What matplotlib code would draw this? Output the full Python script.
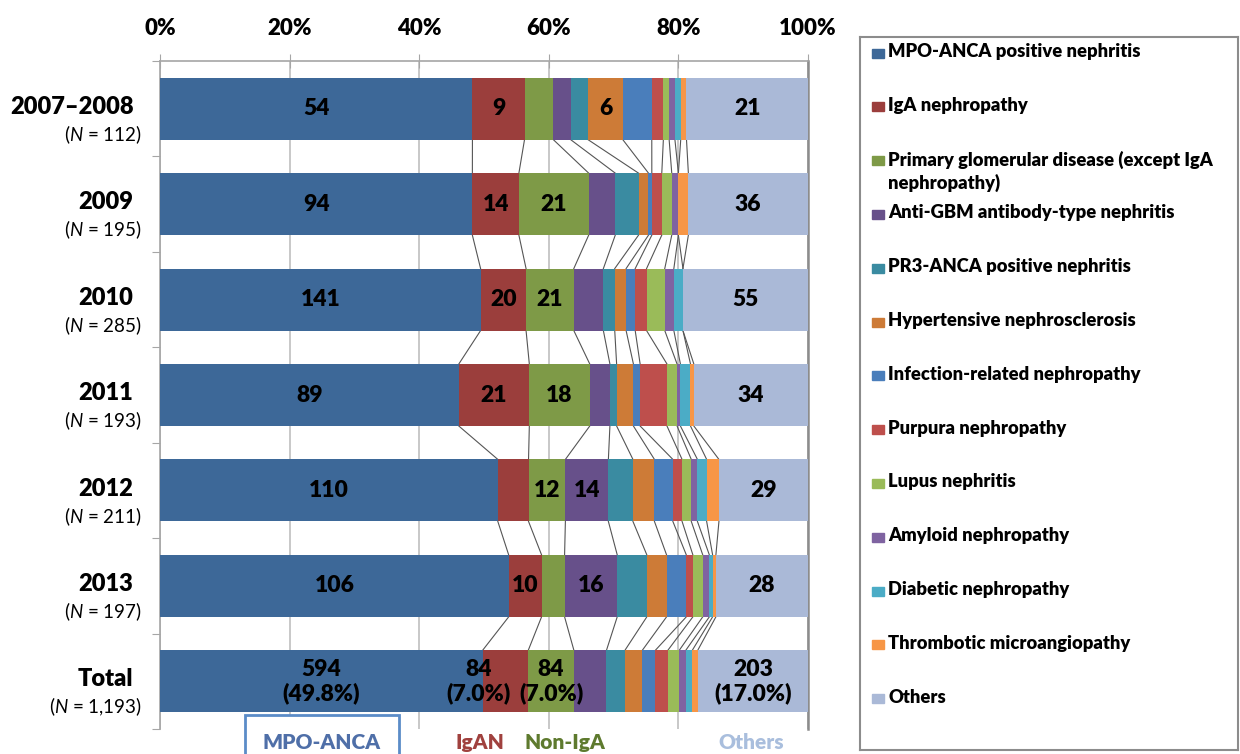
import numpy as np
import matplotlib
matplotlib.use("Agg")
import matplotlib.pyplot as plt
from matplotlib.patches import Rectangle

plt.rcParams['font.family'] = ['Lato', 'DejaVu Sans']
plt.rcParams['mathtext.fontset'] = 'custom'
plt.rcParams['mathtext.rm'] = 'Lato'
plt.rcParams['mathtext.it'] = 'Lato:italic'

# data (case counts per period)
periods = ["2007\u20132008", "2009", "2010", "2011", "2012", "2013", "Total"]
n_labels = ["112", "195", "285", "193", "211", "197", "1,193"]
diseases = [
    "MPO-ANCA positive nephritis",
    "IgA nephropathy",
    "Primary glomerular disease (except IgA\nnephropathy)",
    "Anti-GBM antibody-type nephritis",
    "PR3-ANCA positive nephritis",
    "Hypertensive nephrosclerosis",
    "Infection-related nephropathy",
    "Purpura nephropathy",
    "Lupus nephritis",
    "Amyloid nephropathy",
    "Diabetic nephropathy",
    "Thrombotic microangiopathy",
    "Others",
]
colors = ["#3D6898", "#9B3E3C", "#7E9A47", "#67508A", "#3A8BA1", "#CD7B37",
          "#4A7EBB", "#BE4F4C", "#9ABB59", "#7F63A1", "#4BACC6", "#F79646", "#AAB9D7"]

counts_0708 = [54, 9, 5, 3, 3, 6, 5, 2, 1, 1, 1, 1, 21]
counts_2009 = [94, 14, 21, 8, 7, 3, 1, 3, 3, 2, 0, 3, 36]
counts_2010 = [141, 20, 21, 13, 5, 5, 4, 5, 8, 4, 4, 0, 55]
counts_2011 = [89, 21, 18, 6, 2, 5, 2, 8, 3, 1, 3, 1, 34]
counts_2012 = [110, 10, 12, 14, 8, 7, 6, 3, 3, 2, 3, 4, 29]
counts_2013 = [106, 10, 7, 16, 9, 6, 6, 2, 3, 2, 1, 1, 28]

# which segments carry a number in the reference, per row
labelled = [[0, 1, 5, 12], [0, 1, 2, 12], [0, 1, 2, 12], [0, 1, 2, 12],
            [0, 2, 3, 12], [0, 1, 3, 12], [0, 1, 2, 12]]

yearly = np.array([counts_0708, counts_2009, counts_2010, counts_2011,
                   counts_2012, counts_2013])
counts = np.vstack([yearly, yearly.sum(axis=0)])
pct = counts / counts.sum(axis=1, keepdims=True) * 100
cum = np.cumsum(pct, axis=1)
left = cum - pct

W, H = 1240, 754
fig = plt.figure(figsize=(W / 100, H / 100), dpi=100)
ax = fig.add_axes([160 / W, 1 - 729 / H, 648 / W, 668 / H])

rows = np.arange(len(periods))
bar_h = 0.65
for j in range(len(diseases)):
    ax.barh(rows, pct[:, j], left=left[:, j], height=bar_h, color=colors[j],
            edgecolor='none', zorder=3)

# connector lines between segment borders of consecutive rows
for i in range(len(periods) - 1):
    for j in range(len(diseases) - 1):
        ax.plot([cum[i, j], cum[i + 1, j]], [i + bar_h / 2, i + 1 - bar_h / 2],
                color="#555555", lw=0.8, zorder=2)

# numbers inside bars
for i in range(len(periods)):
    for j in labelled[i]:
        x = left[i, j] + pct[i, j] / 2
        if i == len(periods) - 1:
            txt = f"{counts[i, j]}\n({pct[i, j]:.1f}%)"
            if j == 1:
                x -= 4.2
        else:
            txt = str(counts[i, j])
        ax.text(x, i, txt, ha='center', va='center', fontsize=16.5,
                fontweight='heavy', color='black', zorder=5, linespacing=1.15)

ax.set_xlim(0, 100)
ax.set_ylim(len(periods) - 0.5, -0.5)
ax.xaxis.tick_top()
ax.set_xticks(np.arange(0, 101, 20))
ax.set_xticklabels([f"{v}%" for v in range(0, 101, 20)], fontsize=16,
                   fontweight='heavy')
ax.tick_params(axis='x', direction='inout', length=10, color="#A6A6A6",
               pad=11)
ax.grid(axis='x', color="#BFBFBF", lw=1.2, zorder=0)
ax.set_yticks(np.arange(-0.5, len(periods), 1.0))
ax.set_yticklabels([])
ax.tick_params(axis='y', direction='out', length=6, color="#A6A6A6")
for s in ['top', 'left']:
    ax.spines[s].set_color("#A6A6A6")
    ax.spines[s].set_linewidth(1.2)
ax.spines['right'].set_color("#8C8C8C")
ax.spines['right'].set_linewidth(1.8)
ax.spines['bottom'].set_visible(False)

ytr = ax.get_yaxis_transform()
for i, (p, n) in enumerate(zip(periods, n_labels)):
    ax.text(-0.041, i - 0.02, p, transform=ytr, ha='right', va='center',
            fontsize=17, fontweight='heavy')
    ax.text(-0.028, i + 0.27, rf"($\it{{N}}$ = {n})", transform=ytr,
            ha='right', va='center', fontsize=13.5)

# group labels under the chart
groups = [("MPO-ANCA", 25.0, "#4F6FA8"), ("IgAN", 49.4, "#A0413E"),
          ("Non-IgA", 62.5, "#5E7A2E"), ("Others", 91.2, "#A9BEDD")]
for name, gx, gc in groups:
    kw = {}
    if name == "MPO-ANCA":
        kw['bbox'] = dict(boxstyle='square,pad=0.85', fc='white',
                          ec="#5B8CC8", lw=2)
    ax.text(gx, 6.64, name, ha='center', va='center', fontsize=15,
            fontweight='heavy', color=gc, clip_on=False, **kw)

# legend box
lax = fig.add_axes([860 / W, 1 - 750 / H, 378 / W, 713 / H])
lax.set_xlim(0, 378)
lax.set_ylim(713, 0)
lax.set_xticks([])
lax.set_yticks([])
for s in lax.spines.values():
    s.set_color("#8C8C8C")
    s.set_linewidth(1.5)
for j, (name, c) in enumerate(zip(diseases, colors)):
    y = 16 + 53.8 * j
    lax.add_patch(Rectangle((12, y - 4.5), 12, 9, color=c))
    lax.text(28, y - 10, name, ha='left', va='top', fontsize=13.2,
             fontweight='heavy', linespacing=1.35)

fig.savefig("out.png", dpi=100)
